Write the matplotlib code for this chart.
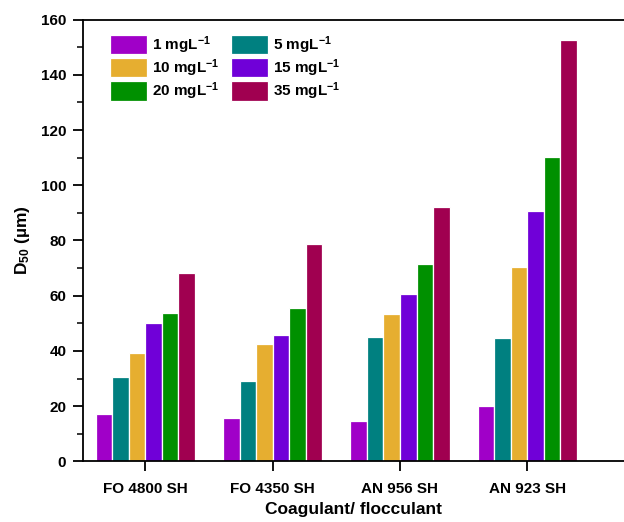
import numpy as np
import matplotlib
matplotlib.use('Agg')
import matplotlib.pyplot as plt
from matplotlib.ticker import MultipleLocator

plt.rcParams['font.family'] = ['Liberation Sans', 'DejaVu Sans']
plt.rcParams['font.weight'] = 'bold'
plt.rcParams['mathtext.fontset'] = 'custom'
plt.rcParams['mathtext.rm'] = 'Liberation Sans:bold'
plt.rcParams['mathtext.bf'] = 'Liberation Sans:bold'
plt.rcParams['mathtext.it'] = 'Liberation Sans:bold'
plt.rcParams['mathtext.default'] = 'bf'

groups = ['FO 4800 SH', 'FO 4350 SH', 'AN 956 SH', 'AN 923 SH']
doses = ['1', '5', '10', '15', '20', '35']
d1 = [17.2, 15.7, 14.7, 20.0]
d5 = [30.5, 29.1, 44.9, 44.8]
d10 = [39.3, 42.5, 53.4, 70.5]
d15 = [50.0, 45.7, 60.5, 90.7]
d20 = [53.6, 55.4, 71.5, 110.3]
d35 = [68.1, 78.7, 92.1, 152.6]
series = [d1, d5, d10, d15, d20, d35]
colors = ['#A000C8', '#008080', '#E6AE30', '#7000D8', '#009000', '#A00050']

fig = plt.figure(figsize=(6.24, 5.22), dpi=100)
ax = fig.add_axes([0.133, 0.116, 0.867, 0.8466])

x = np.arange(len(groups))
W = 0.13
bars = []
for i, (vals, c) in enumerate(zip(series, colors)):
    b = ax.bar(x + (i - 2.5) * W, vals, W, color=c, edgecolor='white', linewidth=0.9)
    bars.append(b)

ax.set_xlim(-0.49, 3.76)
ax.set_ylim(0, 160)
ax.yaxis.set_major_locator(MultipleLocator(20))
ax.yaxis.set_minor_locator(MultipleLocator(10))
ax.set_xticks(x)
ax.set_xticklabels(groups)
ax.tick_params(axis='both', which='major', direction='out', length=7, width=1.3, labelsize=11)
ax.tick_params(axis='y', which='minor', direction='out', length=4, width=1.1)
ax.tick_params(axis='x', pad=8)
ax.tick_params(axis='y', pad=5)
ax.spines['right'].set_visible(False)
for s in ['left', 'bottom', 'top']:
    ax.spines[s].set_linewidth(1.3)

ax.set_ylabel('D$_{50}$ (\u00b5m)', fontsize=12.5, fontweight='bold', labelpad=6)
ax.set_xlabel('Coagulant/ flocculant', fontsize=12.5, fontweight='bold', labelpad=4)

# legend ordered column-wise: 1,10,20 | 5,15,35
order = [0, 2, 4, 1, 3, 5]
handles = [bars[k] for k in order]
labels = [doses[k] + ' mgL$^{-1}$' for k in order]
ax.legend(handles, labels, ncol=2, loc='upper left', bbox_to_anchor=(0.05, 0.967),
          frameon=False, handlelength=2.4, handleheight=1.55,
          columnspacing=0.75, labelspacing=0.1, handletextpad=0.35,
          borderpad=0, borderaxespad=0,
          prop={'weight': 'bold', 'size': 11})

fig.savefig('out.png', dpi=100)
